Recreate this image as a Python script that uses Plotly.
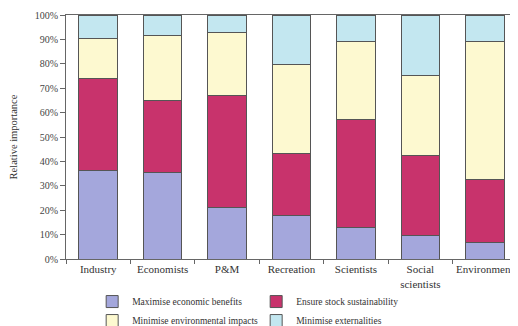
import plotly.graph_objects as go

categories = ["Industry", "Economists", "P&M", "Recreation", "Scientists", "Social<br>scientists", "Environment"]
series_names = ["Maximise economic benefits", "Ensure stock sustainability",
                "Minimise environmental impacts", "Minimise externalities"]
economic = [36.2, 35.4, 21.0, 17.7, 13.1, 9.7, 6.7]
stock = [37.6, 29.5, 45.9, 25.7, 44.2, 32.9, 26.0]
environmental = [16.6, 26.6, 26.0, 36.4, 31.8, 32.7, 56.6]
externalities = [9.6, 8.5, 7.1, 20.2, 10.9, 24.7, 10.7]
y_ticks = [0, 10, 20, 30, 40, 50, 60, 70, 80, 90, 100]
y_tick_labels = ["0%", "10%", "20%", "30%", "40%", "50%", "60%", "70%", "80%", "90%", "100%"]

colors = ["#a4a7dc", "#c8336c", "#fdf9d0", "#c3e7f0"]
serif = "Liberation Serif, Times New Roman, serif"

fig = go.Figure()
for name, vals, col in zip(series_names, [economic, stock, environmental, externalities], colors):
    fig.add_trace(go.Bar(
        x=categories, y=vals, name=name,
        marker=dict(color=col, line=dict(color="#555555", width=1)),
        width=0.6,
    ))

fig.update_layout(
    barmode="stack",
    width=510, height=318,
    margin=dict(l=58, r=1, t=7, b=67, autoexpand=False),
    plot_bgcolor="white", paper_bgcolor="white",
    font=dict(family=serif, color="#333333"),
    showlegend=True,
    legend=dict(
        orientation="h", x=0.058, xanchor="left", y=-0.115, yanchor="top",
        entrywidth=119, entrywidthmode="pixels", itemwidth=30,
        font=dict(size=9.5, family=serif, color="#333333"),
        traceorder="normal", bgcolor="rgba(0,0,0,0)",
        tracegroupgap=0,
    ),
    xaxis=dict(
        range=[-0.5, 6.5], automargin=False,
        showline=True, linecolor="#666666", linewidth=1, mirror=True,
        ticks="outside", tickson="boundaries", ticklen=4, tickcolor="#666666",
        tickangle=0,
        tickfont=dict(size=11, family=serif, color="#333333"),
        showgrid=False,
    ),
    yaxis=dict(
        range=[0, 100], automargin=False,
        tickvals=y_ticks, ticktext=y_tick_labels,
        showline=True, linecolor="#666666", linewidth=1, mirror=True,
        ticks="outside", ticklen=5, tickcolor="#666666",
        tickfont=dict(size=10, family=serif, color="#444444"),
        showgrid=False,
        title=dict(text="Relative importance", font=dict(size=10.5, family=serif, color="#333333"), standoff=14),
    ),
)

fig.write_html("out.html")
